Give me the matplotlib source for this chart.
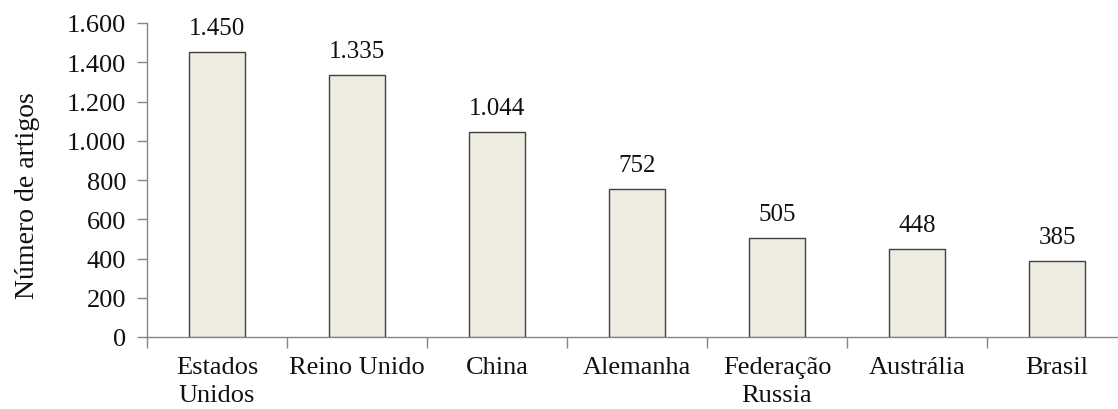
import matplotlib
matplotlib.use("Agg")
import matplotlib.pyplot as plt
from matplotlib.ticker import FuncFormatter, FixedLocator, NullFormatter

categories = ["Estados\nUnidos", "Reino Unido", "China", "Alemanha", "Federação\nRussia", "Austrália", "Brasil"]
values = [1450, 1335, 1044, 752, 505, 448, 385]
y_ticks = [0, 200, 400, 600, 800, 1000, 1200, 1400, 1600]

def fmt(v):
    return f"{int(v):,}".replace(",", ".")

plt.rcParams['font.family'] = ['Liberation Serif', 'DejaVu Serif']
fig = plt.figure(figsize=(11.18, 4.10), dpi=100)
ax = fig.add_axes([147/1118, 72/410, 980/1118, 314/410])

x = list(range(len(categories)))
ax.bar(x, values, width=0.4, color="#EEECE1", edgecolor="#404040", linewidth=1.0, zorder=3)
for xi, v in zip(x, values):
    ax.annotate(fmt(v), (xi, v), xytext=(0, 13), textcoords="offset points",
                ha="center", va="baseline", fontsize=18, color="#111111")

ax.set_xlim(-0.5, len(categories) - 0.5)
ax.set_ylim(0, 1600)
ax.set_yticks(y_ticks)
ax.yaxis.set_major_formatter(FuncFormatter(lambda v, p: fmt(v)))
ax.tick_params(axis='y', labelsize=19, length=7, width=1, color="#868686", pad=8, labelcolor="#111111")

ax.set_xticks(x)
ax.set_xticklabels(categories, fontsize=19, linespacing=1.35, color="#111111")
ax.tick_params(axis='x', which='major', length=0, pad=14)
ax.xaxis.set_minor_locator(FixedLocator([i - 0.5 for i in range(len(categories) + 1)]))
ax.xaxis.set_minor_formatter(NullFormatter())
ax.tick_params(axis='x', which='minor', length=8, width=1, color="#868686")

for s in ["top", "right"]:
    ax.spines[s].set_visible(False)
for s in ["left", "bottom"]:
    ax.spines[s].set_color("#868686")
    ax.spines[s].set_linewidth(1)

ax.set_ylabel("Número de artigos", fontsize=20, color="#111111")
ax.yaxis.set_label_coords(-107/980, 0.455)

fig.savefig("out.png", dpi=100)
